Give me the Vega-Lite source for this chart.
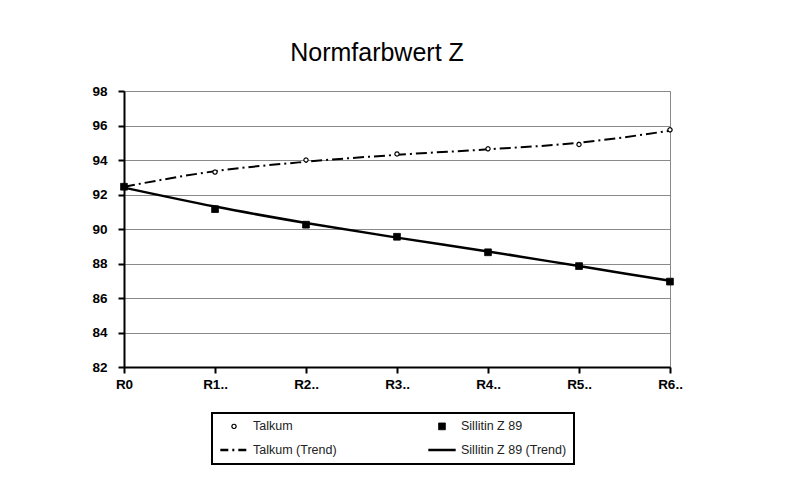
{
  "$schema": "https://vega.github.io/schema/vega-lite/v6.json",
  "width": 546,
  "height": 276,
  "autosize": {"type": "none"},
  "padding": {"left": 124, "top": 91, "right": 130, "bottom": 121},
  "background": "white",
  "title": {
    "text": "Normfarbwert Z",
    "fontSize": 25,
    "font": "Liberation Sans",
    "fontWeight": "normal",
    "color": "black",
    "anchor": "middle",
    "dx": -20,
    "offset": 18
  },
  "config": {
    "view": {"stroke": "#8a8a8a", "strokeWidth": 1},
    "font": "Liberation Sans",
    "axis": {
      "labelFont": "Liberation Sans",
      "labelFontWeight": "bold",
      "labelFontSize": 13.5,
      "labelColor": "black",
      "domainColor": "black",
      "domainWidth": 2,
      "tickColor": "black",
      "tickWidth": 2,
      "title": null
    },
    "legend": {
      "labelFont": "Liberation Sans",
      "labelFontSize": 12.5,
      "labelColor": "#222",
      "symbolStrokeColor": "black",
      "strokeColor": "black",
      "strokeWidth": 2,
      "padding": 7,
      "rowPadding": 2
    }
  },
  "data": {
    "values": [
      {"cat": "R0", "series": "Talkum", "value": 92.5},
      {"cat": "R1..", "series": "Talkum", "value": 93.3},
      {"cat": "R2..", "series": "Talkum", "value": 94.0},
      {"cat": "R3..", "series": "Talkum", "value": 94.35},
      {"cat": "R4..", "series": "Talkum", "value": 94.65},
      {"cat": "R5..", "series": "Talkum", "value": 94.9},
      {"cat": "R6..", "series": "Talkum", "value": 95.75},
      {"cat": "R0", "series": "Sillitin Z 89", "value": 92.45},
      {"cat": "R1..", "series": "Sillitin Z 89", "value": 91.15},
      {"cat": "R2..", "series": "Sillitin Z 89", "value": 90.25},
      {"cat": "R3..", "series": "Sillitin Z 89", "value": 89.55},
      {"cat": "R4..", "series": "Sillitin Z 89", "value": 88.65},
      {"cat": "R5..", "series": "Sillitin Z 89", "value": 87.85},
      {"cat": "R6..", "series": "Sillitin Z 89", "value": 86.95},
      {"cat": "R0", "series": "Talkum (Trend)", "value": 92.45},
      {"cat": "R1..", "series": "Talkum (Trend)", "value": 93.35},
      {"cat": "R2..", "series": "Talkum (Trend)", "value": 93.9},
      {"cat": "R3..", "series": "Talkum (Trend)", "value": 94.3},
      {"cat": "R4..", "series": "Talkum (Trend)", "value": 94.62},
      {"cat": "R5..", "series": "Talkum (Trend)", "value": 95.0},
      {"cat": "R6..", "series": "Talkum (Trend)", "value": 95.7},
      {"cat": "R0", "series": "Sillitin Z 89 (Trend)", "value": 92.4},
      {"cat": "R1..", "series": "Sillitin Z 89 (Trend)", "value": 91.3},
      {"cat": "R2..", "series": "Sillitin Z 89 (Trend)", "value": 90.35},
      {"cat": "R3..", "series": "Sillitin Z 89 (Trend)", "value": 89.5},
      {"cat": "R4..", "series": "Sillitin Z 89 (Trend)", "value": 88.7},
      {"cat": "R5..", "series": "Sillitin Z 89 (Trend)", "value": 87.85},
      {"cat": "R6..", "series": "Sillitin Z 89 (Trend)", "value": 87.0}
    ]
  },
  "encoding": {
    "x": {
      "field": "cat",
      "type": "ordinal",
      "sort": null,
      "scale": {"type": "point", "padding": 0},
      "axis": {"labelAngle": 0, "tickSize": 6, "labelPadding": 4, "grid": false}
    },
    "y": {
      "field": "value",
      "type": "quantitative",
      "scale": {"domain": [82, 98], "nice": false, "zero": false},
      "axis": {"values": [82, 84, 86, 88, 90, 92, 94, 96, 98], "tickSize": 6, "labelPadding": 11, "grid": true, "gridColor": "#8a8a8a", "gridWidth": 1}
    }
  },
  "layer": [
    {
      "transform": [{"filter": "datum.series === 'Talkum (Trend)'"}],
      "mark": {"type": "line", "color": "black", "strokeWidth": 2, "strokeDash": [11, 4, 2, 4], "interpolate": "monotone"}
    },
    {
      "transform": [{"filter": "datum.series === 'Sillitin Z 89 (Trend)'"}],
      "mark": {"type": "line", "color": "black", "strokeWidth": 2.5, "interpolate": "monotone"}
    },
    {
      "transform": [{"filter": "datum.series === 'Talkum' || datum.series === 'Sillitin Z 89'"}],
      "mark": {"type": "point", "filled": true, "opacity": 1},
      "encoding": {
        "shape": {
          "field": "series", "type": "nominal",
          "scale": {"domain": ["Talkum", "Talkum (Trend)", "Sillitin Z 89", "Sillitin Z 89 (Trend)"], "range": ["circle", "stroke", "square", "stroke"]},
          "legend": {"title": null, "orient": "none", "legendX": 88, "legendY": 322, "columns": 2, "columnPadding": 86, "labelLimit": 220}
        },
        "fill": {
          "field": "series", "type": "nominal",
          "scale": {"domain": ["Talkum", "Talkum (Trend)", "Sillitin Z 89", "Sillitin Z 89 (Trend)"], "range": ["white", "black", "black", "black"]}
        },
        "stroke": {
          "field": "series", "type": "nominal",
          "scale": {"domain": ["Talkum", "Talkum (Trend)", "Sillitin Z 89", "Sillitin Z 89 (Trend)"], "range": ["black", "black", "black", "black"]}
        },
        "size": {
          "field": "series", "type": "nominal",
          "scale": {"type": "ordinal", "domain": ["Talkum", "Talkum (Trend)", "Sillitin Z 89", "Sillitin Z 89 (Trend)"], "range": [18, 750, 45, 750]}
        },
        "strokeDash": {
          "field": "series", "type": "nominal",
          "scale": {"domain": ["Talkum", "Talkum (Trend)", "Sillitin Z 89", "Sillitin Z 89 (Trend)"], "range": [[1, 0], [8, 4, 2, 4], [1, 0], [1, 0]]}
        },
        "strokeWidth": {
          "field": "series", "type": "nominal",
          "scale": {"type": "ordinal", "domain": ["Talkum", "Talkum (Trend)", "Sillitin Z 89", "Sillitin Z 89 (Trend)"], "range": [1.2, 2.5, 1, 2.5]}
        }
      }
    }
  ]
}
